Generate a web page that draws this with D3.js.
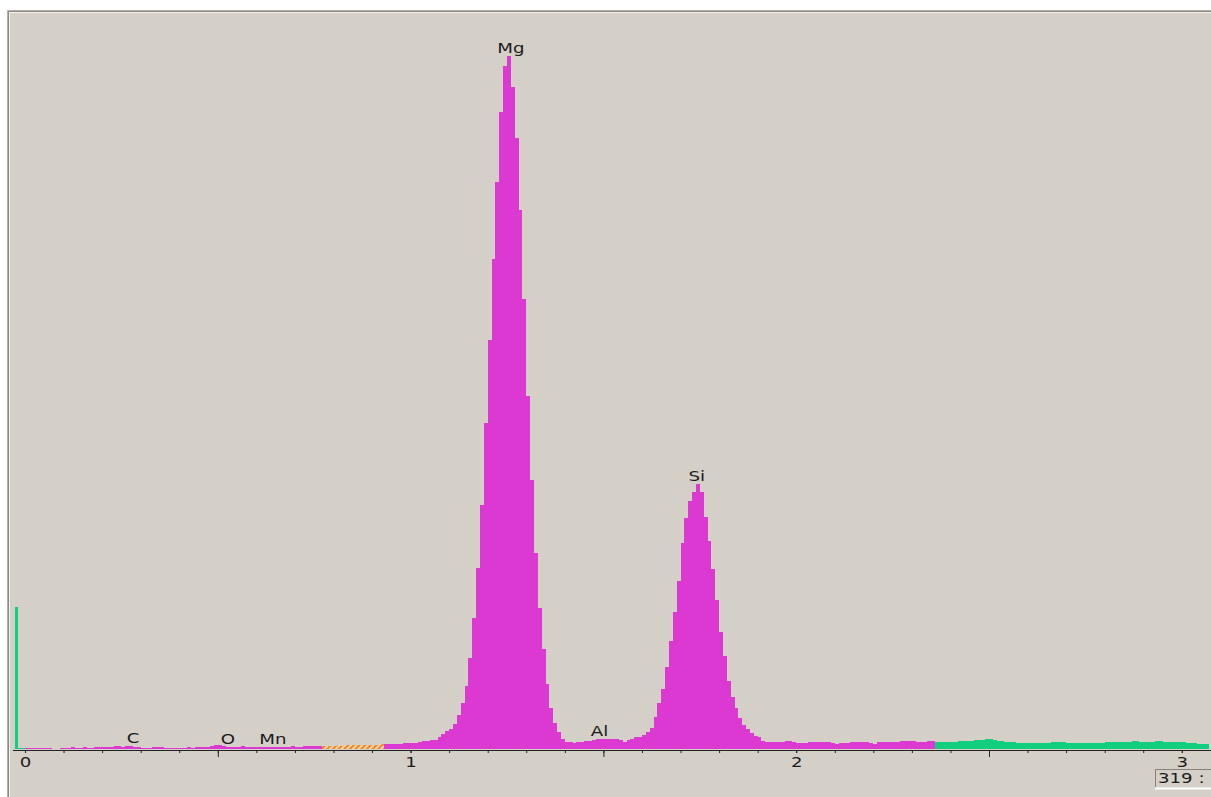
<!DOCTYPE html>
<html>
<head>
<meta charset="utf-8">
<script src="https://cdn.jsdelivr.net/npm/d3@7"></script>
<style>
  body { margin: 0; background: #fff; }
  svg { display: block; }
  text { font-family: "DejaVu Sans", sans-serif; font-size: 14px; fill: #1c1c1c; }
</style>
</head>
<body>
<script>
const WIDTH = 1211;
const HEIGHT = 797;
const PANEL_X = 8;
const PANEL_Y = 10;
const BASELINE = 749;
const PLOT_TOP = 12;
const AXIS_Y = 750;
const STRETCH = 1.3;

// spectrum: 10 eV channels, first channel at -0.02 keV
var channelStart = -0.02;
var channelWidth = 0.01;
var counts = [
  1, 1,
  1.5, 1.5, 1.5, 1.5, 1.5, 1.5, 1.5, 0, 0, 1.5,
  1.5, 1.5, 2, 1.5, 1.5, 2, 1.5, 1.5, 2, 2,
  2, 2, 2.5, 3, 3, 2.5, 3, 3, 2.5, 2,
  1.5, 1.5, 1.5, 2, 2.5, 2, 1.5, 1.5, 1.5, 1.5,
  1.5, 1.5, 2, 1.5, 2, 2, 2.5, 2.5, 3, 4,
  4, 3, 2.5, 2.5, 2.5, 2.5, 3, 2.5, 2.5, 2.5,
  2.5, 2, 2, 2, 2, 2, 2, 2.5, 2.5, 3,
  2.5, 2.5, 3, 3, 3, 3, 3, 3.5, 3.5, 3.5,
  3.5, 4, 3.5, 4, 4, 4, 4, 4, 4.5, 4.5,
  4.5, 4.5, 5, 5, 5.5, 5.5, 5.5, 5.5, 6, 6,
  6, 6, 7, 8, 8, 9, 9, 12, 15, 18,
  20, 25, 34, 46, 63, 91, 131, 181, 244, 326,
  409, 490, 567, 637, 683, 693, 662, 611, 539, 450,
  353, 269, 196, 141, 100, 65, 41, 26, 17, 10,
  7, 7, 6, 7, 7, 8, 8, 9, 10, 10,
  10, 10, 10, 10, 9, 7, 9, 10, 12, 12,
  14, 17, 21, 32, 46, 60, 82, 108, 137, 168,
  206, 231, 248, 257, 265, 257, 232, 208, 180, 149,
  117, 93, 68, 52, 41, 31, 24, 20, 16, 13,
  12, 8, 7, 7, 7, 7, 7, 8, 8, 7,
  6, 6, 6, 7, 7, 7, 7, 7, 7, 6,
  5, 6, 6, 6, 7, 7, 7, 7, 7, 6,
  5, 7, 7, 7, 7, 7, 7, 8, 8, 8,
  8, 7, 7, 7, 8, 8, 7, 7, 7, 7,
  7, 7, 8, 8, 8, 8, 9, 9, 9, 10,
  10, 9, 8, 8, 7, 7, 7, 6, 6, 6,
  6, 6, 6, 6, 6, 6, 7, 7, 7, 7,
  6, 6, 6, 6, 6, 6, 6, 6, 6, 6,
  7, 7, 7, 7, 7, 7, 7, 8, 8, 7,
  7, 7, 7, 8, 8, 7, 7, 7, 7, 7,
  7, 6, 6, 6, 5, 5, 5
];

// zero strobe peak
var strobeEnergy = -0.027;
var strobeWidth = 0.007;
var strobeCount = 142;

// colour regions of the spectrum (keV)
var regionKind = ['outside', 'inside', 'roi', 'inside', 'outside'];
var regionFrom = [-0.02, 0, 0.77, 0.93, 2.36];
var regionTo = [0, 0.77, 0.93, 2.36, 3.07];

var peakLabels = ['C', 'O', 'Mn', 'Mg', 'Al', 'Si'];
var peakEnergies = [0.28, 0.526, 0.643, 1.26, 1.49, 1.742];

var tickLabels = ['0', '1', '2', '3'];
var readout = '319 :';

var fills = { inside: '#dc39d2', outside: '#12cf80', roi: 'url(#hatch)' };

var translate = function(x, y){
  return 'translate(' + x + ',' + y + ')';
};

var energyOf = function(i){
  return +(channelStart + i * channelWidth).toFixed(2);
};

var xScale = d3.scaleLinear()
  .domain([0, 3])
  .range([25, 1181.8]);

var yScale = d3.scaleLinear()
  .domain([0, 737])
  .range([BASELINE, PLOT_TOP]);

var svg = d3.select('body')
  .append('svg')
  .attr('width', WIDTH)
  .attr('height', HEIGHT);

var pattern = svg.append('defs')
  .append('pattern')
  .attr('id', 'hatch')
  .attr('patternUnits', 'userSpaceOnUse')
  .attr('width', 4)
  .attr('height', 4)
  .attr('patternTransform', 'rotate(45)');
pattern.append('rect').attr('width', 4).attr('height', 4).attr('fill', '#fde3c4');
pattern.append('rect').attr('width', 2.2).attr('height', 4).attr('fill', '#f7821e');

// panel with sunken border
svg.append('rect')
  .attr('x', PANEL_X)
  .attr('y', PANEL_Y)
  .attr('width', WIDTH - PANEL_X)
  .attr('height', HEIGHT - PANEL_Y)
  .attr('fill', '#d4d0c8');

var border = svg.append('g').attr('fill', 'none');
border.append('path').attr('d', 'M7.5,797V10.5H1211').attr('stroke', '#b4b0a8');
border.append('path').attr('d', 'M8.5,797V11.5H1211').attr('stroke', '#8c8983');
border.append('path').attr('d', 'M9.5,797V12.5H1211').attr('stroke', '#f4f2ee');

// spectrum
var area = d3.area()
  .x(function(d){ return xScale(d.e); })
  .y0(yScale(0))
  .y1(function(d){ return yScale(d.c); })
  .curve(d3.curveStepAfter);

var regionData = function(from, to){
  var pts = [];
  counts.forEach(function(c, i){
    var e = energyOf(i);
    if (e >= from - 1e-6 && e < to - 1e-6) pts.push({ e: e, c: c });
  });
  pts.push({ e: to, c: pts[pts.length - 1].c });
  return pts;
};

var spectrum = svg.append('g').attr('shape-rendering', 'crispEdges');

regionKind.forEach(function(kind, i){
  spectrum.append('path')
    .attr('d', area(regionData(regionFrom[i], regionTo[i])))
    .attr('fill', fills[kind]);
});

spectrum.append('rect')
  .attr('x', Math.round(xScale(strobeEnergy)))
  .attr('y', yScale(strobeCount))
  .attr('width', Math.round(xScale(strobeWidth) - xScale(0)))
  .attr('height', yScale(0) - yScale(strobeCount))
  .attr('fill', fills.outside);

// axis
var minorAxis = d3.axisBottom(xScale)
  .tickValues(d3.range(0, 31).map(function(i){ return i / 10; }))
  .tickSize(3)
  .tickFormat('');

var halfAxis = d3.axisBottom(xScale)
  .tickValues([0.5, 1.5, 2.5])
  .tickSize(7)
  .tickFormat('');

var labelAxis = d3.axisBottom(xScale)
  .tickValues(tickLabels.map(Number))
  .tickSize(3)
  .tickPadding(4)
  .tickFormat(function(d, i){ return tickLabels[i]; });

[minorAxis, halfAxis, labelAxis].forEach(function(ax){
  var g = svg.append('g')
    .attr('transform', translate(0, AXIS_Y))
    .call(ax);
  g.select('.domain').remove();
  g.selectAll('line').attr('stroke', '#222');
  g.selectAll('text')
    .attr('font-family', null)
    .attr('font-size', null)
    .attr('fill', null)
    .attr('transform', 'scale(' + STRETCH + ',1)');
});

svg.append('line')
  .attr('x1', 13)
  .attr('x2', WIDTH)
  .attr('y1', AXIS_Y + 0.5)
  .attr('y2', AXIS_Y + 0.5)
  .attr('stroke', '#222');

// peak labels
var localMax = function(energy){
  var m = 0;
  counts.forEach(function(c, i){
    var e = energyOf(i);
    if (Math.abs(e - energy) <= 0.015) m = Math.max(m, c);
  });
  return m;
};

peakLabels.forEach(function(label, i){
  var e = peakEnergies[i];
  svg.append('g')
    .attr('transform', translate(xScale(e), yScale(localMax(e)) - 3))
    .append('text')
    .attr('text-anchor', 'middle')
    .attr('transform', 'scale(' + STRETCH + ',1)')
    .text(label);
});

// readout box at the bottom right
var box = svg.append('g').attr('transform', translate(1155, 769));
box.append('path').attr('d', 'M0.5,18V0.5H56').attr('fill', 'none').attr('stroke', '#85827c');
box.append('path').attr('d', 'M0,19.5H56').attr('fill', 'none').attr('stroke', '#ffffff').attr('stroke-width', 2);
box.append('text')
  .attr('x', 3)
  .attr('y', 14)
  .attr('transform', 'scale(' + STRETCH + ',1)')
  .attr('transform-origin', '3 14')
  .text(readout);
</script>
</body>
</html>
